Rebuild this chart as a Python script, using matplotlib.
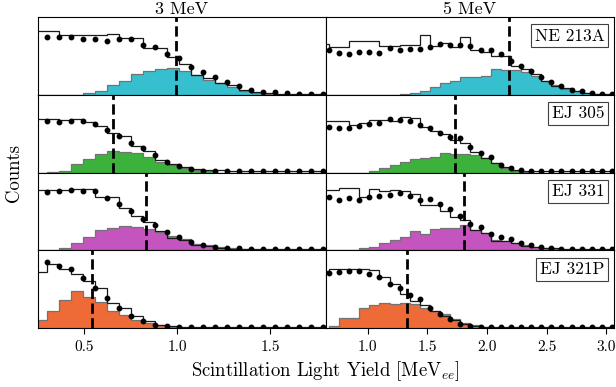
import numpy as np
import matplotlib
matplotlib.use('Agg')
import matplotlib.pyplot as plt

plt.rcParams['font.family'] = 'serif'
plt.rcParams['font.serif'] = ['cmr10']
plt.rcParams['mathtext.fontset'] = 'cm'
plt.rcParams['axes.unicode_minus'] = False

# incident neutron energies (columns) and detectors (rows)
energies = ['3 MeV', '5 MeV']
detectors = ['NE 213A', 'EJ 305', 'EJ 331', 'EJ 321P']
fill_colors = ['#36c0cf', '#3cb23c', '#c454be', '#ee6a37']

# histogram bin edges, data points sit on the inner edges
edges_3mev = np.linspace(0.237, 1.8495, 26)
edges_5mev = np.linspace(0.5903, 3.1313, 31)

# 3 MeV -- measured points, simulated histogram, selected component
dots_3_ne213a = [74, 74, 74, 72, 72, 69, 72, 72, 64, 61, 53, 47, 36, 29, 23, 16,
                 11, 6, 4, 3, 2, 1.3, 1.3, 1.3]
sim_3_ne213a = [82, 82, 77, 77, 77, 77, 78, 73, 73, 60, 60, 49, 40, 26, 22, 15,
                12, 6, 3.5, 2, 1.5, 1, 1, 1, 1]
part_3_ne213a = [0, 0, 0, 0, 2, 5.5, 12.7, 18, 27, 30, 33, 35, 31, 25, 19, 15,
                 10, 5, 2, 1, 0, 0, 0, 0, 0]

dots_3_ej305 = [66.5, 64.8, 65.7, 65.7, 62.7, 54.9, 47.2, 37.8, 31.3, 22.7, 13.3,
                8.6, 4.3, 2.6, 2.1, 1.7, 1.7, 1.7, 1.7, 1.7, 1.7, 1.7, 1.7, 1.7]
sim_3_ej305 = [69, 69, 67, 69, 65, 60, 51, 47, 34, 28, 16, 11, 7, 4.5, 3.5, 2.8,
               2, 2, 2, 2, 2, 2, 2, 2, 2]
part_3_ej305 = [0, 1, 2, 11, 17.6, 24, 28, 27, 25, 20.6, 14, 10, 5.6, 3.4, 2,
                0, 0, 0, 0, 0, 0, 0, 0, 0, 0]

dots_3_ej331 = [74.6, 76.8, 78.1, 76.8, 76.8, 67.1, 59.6, 50.9, 40.8, 32.9, 23.2,
                17.5, 11, 7, 4.8, 3, 2.6, 2.2, 2.2, 2.2, 2.2, 2.2, 2.2, 2.2]
sim_3_ej331 = [77, 77, 78, 79, 79.4, 68.4, 68, 54.8, 43.9, 36.4, 24.6, 15.8, 13.2,
               7, 5.7, 3.5, 2.2, 2, 2, 2, 2, 2, 2, 2, 2]
part_3_ej331 = [0, 0, 3.5, 9.2, 17.5, 26.3, 28.5, 31, 30.7, 27.6, 23.2, 18.9, 14.5,
                8.8, 6.6, 4.4, 2.6, 1.8, 0, 0, 0, 0, 0, 0, 0]

dots_3_ej321p = [85.2, 79.5, 76, 64.6, 51.5, 39.3, 26.2, 16.2, 9.6, 4.4, 2.2, 1.7,
                 1.7, 1.7, 1.7, 1.7, 1.7, 1.7, 1.7, 1.7, 1.7, 1.7, 1.7, 1.7]
sim_3_ej321p = [72, 83, 76.4, 70, 61, 51.5, 32.8, 26.2, 15.3, 9.6, 3.5, 2.6,
                1.7, 1.7, 1.7, 1.7, 1.7, 1.7, 1.7, 1.7, 1.7, 1.7, 1.7, 1.7, 1.7]
part_3_ej321p = [11, 22.7, 35.8, 47.2, 40.2, 33.6, 21.8, 16.6, 10.9, 6.6, 3.5, 1.7,
                 0.5, 0.5, 0.5, 0.5, 0.5, 0.5, 0.5, 0.5, 0.5, 0.5, 0.5, 0.5, 0.5]

# 5 MeV
dots_5_ne213a = [58.2, 54, 51.9, 54.9, 55.3, 54, 60.3, 58.2, 59.1, 59.5, 62, 65.4,
                 63.7, 63.7, 62.9, 57.8, 57.8, 52.7, 43.5, 37.1, 30, 22.4, 16, 11,
                 6.3, 4.6, 2.1, 1.3, 1.3]
sim_5_ne213a = [65.4, 61, 61, 69.6, 69.6, 69.6, 62.4, 62.4, 63.7, 63.7, 77.2, 62.4,
                66, 61, 73.8, 58.2, 55, 50, 50, 37, 33, 27.4, 18, 11.8, 8.9, 4.6,
                2, 1, 1, 1]
part_5_ne213a = [0, 0, 0, 0, 0, 0, 0, 0, 1.3, 2.5, 5.5, 9.7, 14.8, 18, 22.4, 23.2,
                 24.5, 33, 31.6, 31.6, 28.7, 24.5, 18, 13, 7.6, 4.6, 2, 1, 0, 0]

dots_5_ej305 = [59.2, 57.9, 57.9, 60.5, 62.7, 64.4, 69.1, 67, 65.7, 61.4, 57.1, 50.6,
                46.4, 44.2, 33.5, 25.8, 20.6, 9.9, 5.6, 3.4, 2.1, 2, 2, 2, 2, 2, 2,
                2, 2]
sim_5_ej305 = [66.5, 66.5, 66.5, 61.4, 64.4, 67, 67, 65.7, 71, 70, 59, 54, 50, 42,
               38, 27, 19, 12, 7, 3.4, 2.5, 2, 2, 2, 2, 2, 2, 2, 2, 2]
part_5_ej305 = [0, 0, 0, 0, 0, 2, 5.6, 10, 14, 17, 19, 20.6, 25.8, 24, 24, 22.7,
                18.5, 12, 5.6, 2, 1, 0, 0, 0, 0, 0, 0, 0, 0, 0]

dots_5_ej331 = [68.4, 64.9, 67.1, 64.9, 68.4, 70.2, 71.5, 73.7, 70.2, 64.9, 65.8,
                59.6, 52.6, 43.9, 34.2, 30.7, 21, 17.5, 14.5, 10.1, 6.6, 4.4, 2.6,
                2.2, 1.8, 1.8, 1.8, 1.8, 1.8]
sim_5_ej331 = [77, 77, 80, 80, 68.4, 79.4, 76, 77, 76, 73, 58, 58, 51, 43, 38.6,
               26, 22, 12.3, 12.3, 10, 5.7, 4.4, 3.5, 2.6, 2, 2, 2, 2, 2, 2]
part_5_ej331 = [0, 0, 0, 0, 2.6, 4.4, 10, 13.6, 16.7, 24.6, 21, 27.6, 28.5, 29, 32,
                26.3, 22, 13, 12.3, 10, 7, 4.4, 2.6, 1.8, 0, 0, 0, 0, 0, 0]

dots_5_ej321p = [70.5, 71.8, 73.1, 73.1, 69.6, 66.1, 56.4, 51.1, 43.2, 37.9, 26.4,
                 17.6, 12.3, 5.7, 2.6, 1.3, 1.3, 1.3, 1.3, 1.3, 1.3, 1.3, 1.3, 1.3,
                 1.3, 1.3, 1.3, 1.3, 1.3]
sim_5_ej321p = [74, 76.2, 76.2, 76.2, 76.2, 74.9, 66, 57.3, 44, 35.2, 30, 22, 15.9,
                10, 4.8, 2.6, 1.3, 1, 1, 1, 1, 1, 1, 1, 1, 1, 1, 1, 1, 1]
part_5_ej321p = [0, 2.6, 13.2, 13.2, 25.6, 30, 32.2, 30.8, 32.2, 30.8, 26.4, 22,
                 17.6, 12.3, 6.6, 3.5, 1.8, 0.3, 0.3, 0.3, 0.3, 0.3, 0.3, 0.3, 0.3,
                 0.3, 0.3, 0.3, 0.3, 0.3]

# dashed marker positions (MeVee)
cut_3mev = [0.995, 0.653, 0.832, 0.541]
cut_5mev = [2.188, 1.732, 1.81, 1.327]

columns = [
    (edges_3mev, [dots_3_ne213a, dots_3_ej305, dots_3_ej331, dots_3_ej321p],
     [sim_3_ne213a, sim_3_ej305, sim_3_ej331, sim_3_ej321p],
     [part_3_ne213a, part_3_ej305, part_3_ej331, part_3_ej321p], cut_3mev),
    (edges_5mev, [dots_5_ne213a, dots_5_ej305, dots_5_ej331, dots_5_ej321p],
     [sim_5_ne213a, sim_5_ej305, sim_5_ej331, sim_5_ej321p],
     [part_5_ne213a, part_5_ej305, part_5_ej331, part_5_ej321p], cut_5mev),
]

fig, axes = plt.subplots(4, 2, figsize=(6.16, 3.87), dpi=100, sharex='col',
                         gridspec_kw=dict(hspace=0, wspace=0))
fig.subplots_adjust(left=0.061, right=0.997, top=0.956, bottom=0.152)

for col, (edges, dots, sims, parts, cuts) in enumerate(columns):
    for row in range(4):
        ax = axes[row, col]
        ax.stairs(parts[row], edges, fill=True, color=fill_colors[row], zorder=1)
        ax.stairs(parts[row], edges, color='0.45', lw=0.9, baseline=None, zorder=1.5)
        ax.stairs(sims[row], edges, color='0.1', lw=0.9, baseline=None, zorder=2)
        ax.plot(edges[1:-1], dots[row], 'o', color='k', ms=3.2, zorder=3)
        ax.axvline(cuts[row], color='k', ls='--', lw=2, zorder=4)
        ax.set_ylim(0, 100)
        ax.tick_params(axis='y', left=False, labelleft=False)
        for s in ax.spines.values():
            s.set_linewidth(0.8)
        if row < 3:
            ax.tick_params(axis='x', bottom=False, labelbottom=False)
        else:
            ax.tick_params(axis='x', direction='out', length=4, width=0.8,
                           labelsize=11, pad=5)
        if col == 1:
            ax.text(0.966, 0.855, detectors[row], transform=ax.transAxes,
                    ha='right', va='top', fontsize=12.5, zorder=5,
                    bbox=dict(boxstyle='square,pad=0.22', fc='white',
                              ec='0.25', lw=0.8))

axes[0, 0].set_title(energies[0], fontsize=13, pad=1.5)
axes[0, 1].set_title(energies[1], fontsize=13, pad=1.5)

axes[3, 0].set_xlim(0.25, 1.80)
axes[3, 0].set_xticks([0.5, 1.0, 1.5])
axes[3, 0].set_xticklabels(['0.5', '1.0', '1.5'])
axes[3, 1].set_xlim(0.65, 3.065)
axes[3, 1].set_xticks([1.0, 1.5, 2.0, 2.5, 3.0])
axes[3, 1].set_xticklabels(['1.0', '1.5', '2.0', '2.5', '3.0'])

fig.text(0.528, 0.04, r'Scintillation Light Yield [MeV$_{ee}$]',
         ha='center', va='center', fontsize=13.5)
fig.text(0.022, 0.554, 'Counts', rotation=90, ha='center', va='center',
         fontsize=13.5)

fig.savefig('out.png', dpi=100)
